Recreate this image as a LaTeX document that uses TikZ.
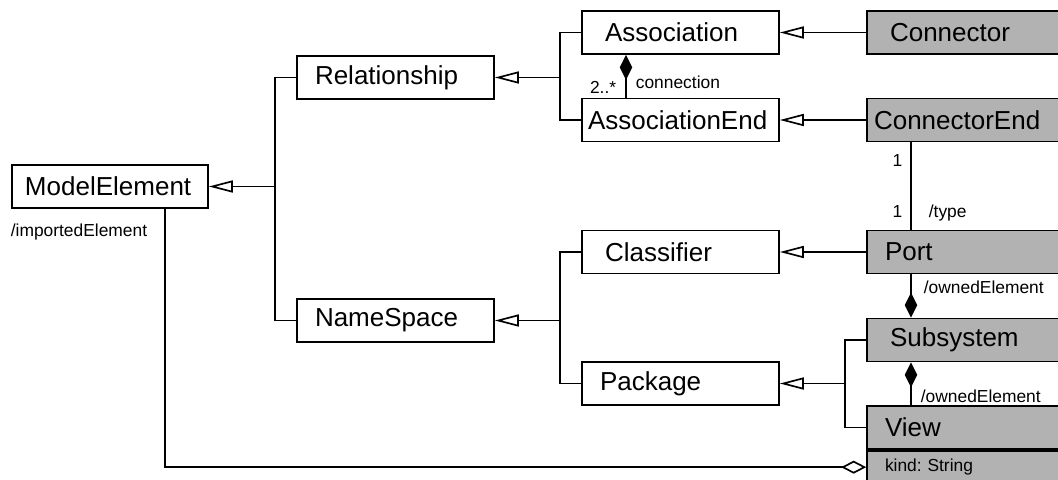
\documentclass[tikz,border=0pt]{standalone}
\usepackage{fontspec}
\setmainfont{Liberation Sans}
\usetikzlibrary{arrows.meta}
\colorlet{extfill}{black!30}

\begin{document}
\begin{tikzpicture}[line width=0.95pt,
    cls/.style={draw,fill=white,text width=#1,align=left,inner xsep=0pt,minimum height=0.86cm,font=\fontsize{14.8}{17}\selectfont},
    cls/.default=3.94cm,
    ext/.style={cls,fill=extfill},
    lpad/.style={execute at begin node=\hspace*{#1}},
    role/.style={font=\fontsize{9.9}{12}\selectfont,inner sep=0pt},
    gen/.style={-{Triangle[open,length=0.48cm,width=0.24cm]}},
    comp/.style={-{Diamond[length=0.5cm,width=0.25cm]}},
    agg/.style={-{Diamond[open,length=0.5cm,width=0.26cm]}}]
          \clip (0,0) rectangle (21.16,-9.58);

          \node[cls=3.92cm,lpad=0.26cm] (ME) at (2.20,-3.73) {ModelElement};
          \node[cls,lpad=0.36cm] (Rel) at (7.91,-1.55) {Relationship};
          \node[cls,lpad=0.36cm] (NS) at (7.91,-6.41) {NameSpace};
          \node[cls,lpad=0.46cm] (Assoc) at (13.61,-0.65) {Association};
          \node[cls,lpad=0.12cm] (AEnd) at (13.61,-2.40) {AssociationEnd};
          \node[cls,lpad=0.46cm] (Cls) at (13.61,-5.04) {Classifier};
          \node[cls,lpad=0.36cm] (Pkg) at (13.61,-7.67) {Package};
          \node[ext,lpad=0.46cm] (Conn) at (19.31,-0.65) {Connector};
          \node[ext,lpad=0.14cm] (CEnd) at (19.31,-2.40) {ConnectorEnd};
          \node[ext,lpad=0.36cm] (Port) at (19.31,-5.04) {Port};
          \node[ext,lpad=0.46cm] (Sub) at (19.31,-6.80) {Subsystem};
          \node[ext,lpad=0.36cm] (View) at (19.31,-8.55) {View};
          \node[ext,lpad=0.36cm,font=\fontsize{9.9}{12}\selectfont,minimum height=0.66cm,anchor=north] (attr) at (View.south) {kind:\ String};

          \coordinate (b1) at (5.50,-3.73);
          \coordinate (b2) at (11.20,-1.55);
          \coordinate (b3) at (11.20,-6.41);
          \coordinate (b4) at (16.90,-7.67);

          \draw (Rel.west) -| (b1) |- (NS.west);
          \draw[gen] (b1) -- (ME);
          \draw (Assoc.west) -| (b2) |- (AEnd.west);
          \draw[gen] (b2) -- (Rel);
          \draw (Cls.west) -| (b3) |- (Pkg.west);
          \draw[gen] (b3) -- (NS);
          \draw (Sub.west) -| (b4) |- (View.west);
          \draw[gen] (b4) -- (Pkg);

          \draw[gen] (Conn) -- (Assoc);
          \draw[gen] (CEnd) -- (AEnd);
          \draw[gen] (Port) -- (Cls);

          \draw[comp] ([xshift=-1.09cm]AEnd.north) -- ([xshift=-1.09cm]Assoc.south)
            node[role,pos=0,anchor=south east,xshift=-0.18cm,yshift=0.06cm] (m1) {2..*}
            node[role,pos=0,anchor=south west,xshift=0.18cm,yshift=0.16cm] (r1) {connection};
          \draw ([xshift=-1.09cm]CEnd.south) -- ([xshift=-1.09cm]Port.north)
            node[role,pos=0,anchor=north east,xshift=-0.16cm,yshift=-0.22cm] (m2) {1}
            node[role,pos=1,anchor=south east,xshift=-0.16cm,yshift=0.22cm] (m3) {1}
            node[role,pos=1,anchor=south west,xshift=0.34cm,yshift=0.16cm] (r2) {/type};
          \draw[comp] ([xshift=-1.09cm]Port.south) -- ([xshift=-1.09cm]Sub.north)
            node[role,pos=0,anchor=north west,xshift=0.24cm,yshift=-0.12cm] (r3) {/ownedElement};
          \draw[comp] ([xshift=-1.09cm]View.north) -- ([xshift=-1.09cm]Sub.south)
            node[role,pos=0,anchor=south west,xshift=0.18cm,yshift=0.04cm] (r4) {/ownedElement};
          \draw[agg] ([xshift=1.10cm]ME.south) |- (attr.west)
            node[role,pos=0,anchor=north east,xshift=-0.34cm,yshift=-0.28cm] (r5) {/importedElement};
        \end{tikzpicture}
\end{document}
